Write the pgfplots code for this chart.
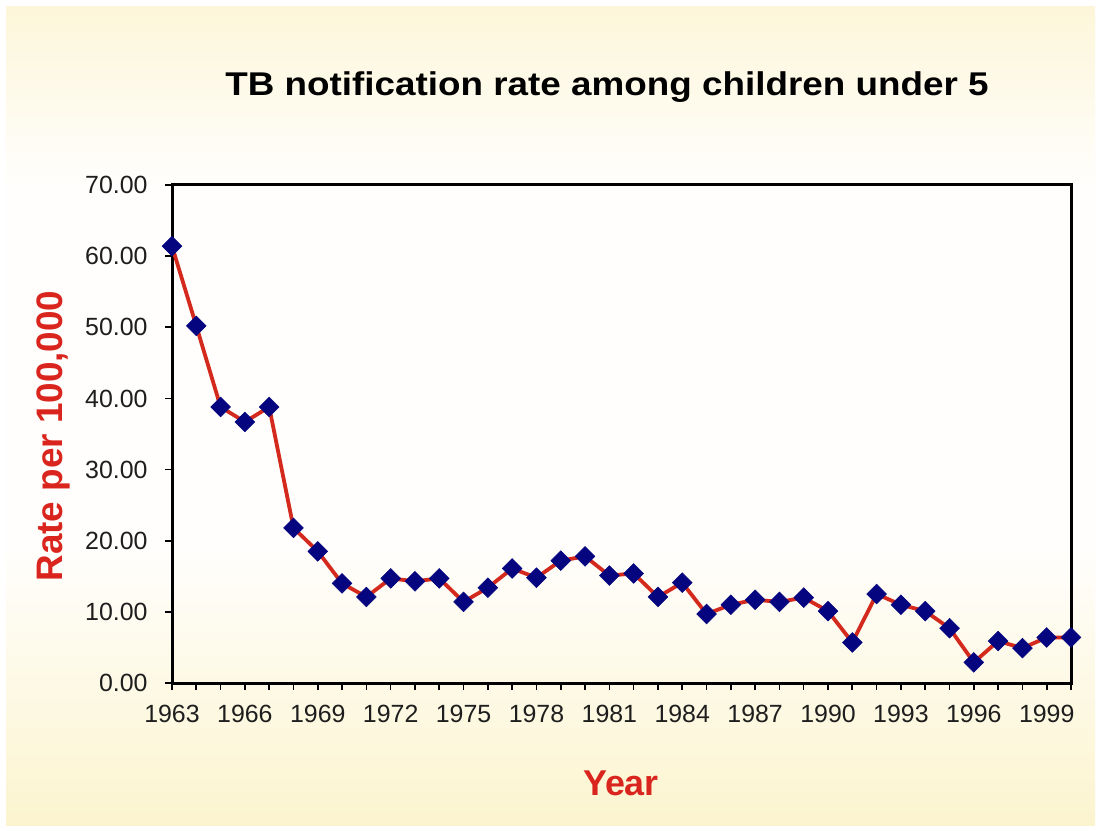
\documentclass[border=0pt]{standalone}
\usepackage{fontspec}
\setmainfont{Liberation Sans}
\usepackage{graphicx}
\usepackage{pgfplots}
\pgfplotsset{compat=1.18}
\definecolor{bgyellow}{HTML}{FBF1C4}
\definecolor{bgyellowb}{HTML}{FCF4CF}
\definecolor{bglight}{HTML}{FFFEFC}
\definecolor{linered}{HTML}{D42A1E}
\definecolor{labelred}{HTML}{D9251D}
\definecolor{navy}{HTML}{05057F}
\definecolor{tickgray}{HTML}{1E1E1E}
\pgfdeclareverticalshading{bgshade}{100bp}{%
  color(0bp)=(bgyellowb); color(25bp)=(bgyellowb);
  color(42bp)=(bglight); color(64bp)=(bglight);
  color(82bp)=(bgyellow); color(100bp)=(bgyellow)}
\begin{document}
\begin{tikzpicture}[x=1bp,y=1bp]
\path[use as bounding box] (0,0) rectangle (1101,-831);
\fill[white] (0,0) rectangle (1101,-831);
\shade[shading=bgshade] (6,-6) rectangle (1095,-825);
\coordinate (AX) at (172,-683);
\begin{axis}[
  scale only axis, width=899bp, height=498bp,
  at={(AX)}, anchor=south west,
  xmin=1963, xmax=2000, ymin=0, ymax=70,
  clip=false,
  axis line style={line width=3bp, black},
  tick align=outside,
  xtick pos=lower, ytick pos=left,
  xtick={1963,1966,...,1999},
  minor xtick={1963,...,2000},
  ytick={0,10,...,70},
  major tick length=7bp, minor tick length=7bp,
  every tick/.style={line width=1.6bp, black},
  tick label style={font=\fontsize{25}{29}\selectfont, text=tickgray},
  /pgf/number format/assume math mode=true,
  xticklabel style={/pgf/number format/.cd, set thousands separator={}, /tikz/.cd, yshift=-12bp},
  yticklabel style={/pgf/number format/.cd, fixed, fixed zerofill, precision=2, /tikz/.cd, xshift=-14bp},
]
\addplot[linered, line width=3.8bp, mark=square*, mark size=7bp,
  mark options={rotate=45, fill=navy, draw=navy, line width=0.5bp}] coordinates {
(1963,61.4) (1964,50.2) (1965,38.8) (1966,36.7) (1967,38.8)
(1968,21.8) (1969,18.5) (1970,14.0) (1971,12.1) (1972,14.7)
(1973,14.3) (1974,14.7) (1975,11.4) (1976,13.4) (1977,16.1)
(1978,14.8) (1979,17.2) (1980,17.8) (1981,15.1) (1982,15.4)
(1983,12.1) (1984,14.1) (1985,9.7) (1986,11.0) (1987,11.7)
(1988,11.4) (1989,12.0) (1990,10.1) (1991,5.7) (1992,12.5)
(1993,11.0) (1994,10.1) (1995,7.7) (1996,2.9) (1997,5.9)
(1998,4.9) (1999,6.4) (2000,6.4)
};
\end{axis}
\node[anchor=base, font=\fontsize{33}{38}\selectfont\bfseries, text=black] at (607,-95)
  {\scalebox{1.12}[1]{TB notification rate among children under 5}};
\node[rotate=90, anchor=base, font=\fontsize{37}{42}\selectfont\bfseries, text=labelred] at (62,-436) {Rate per 100,000};
\node[anchor=base, font=\fontsize{36}{40}\selectfont\bfseries, text=labelred] at (621,-795) {Year};
\end{tikzpicture}
\end{document}
